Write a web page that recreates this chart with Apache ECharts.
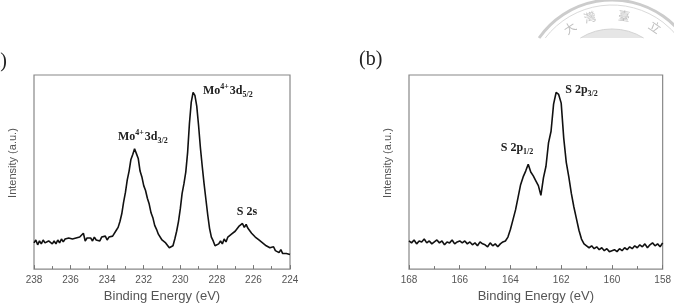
<!DOCTYPE html>
<html>
<head>
<meta charset="utf-8">
<script src="https://cdn.jsdelivr.net/npm/echarts@6/dist/echarts.min.js"></script>
<style>
  html, body { margin: 0; padding: 0; background: #fff; }
  #chart { width: 674px; height: 308px; }
</style>
</head>
<body>
<div id="chart"></div>
<script>
// (a) Mo 3d region, binding energy (eV) and intensity (a.u.)
const energyA = [
  238.0, 237.9, 237.8, 237.7, 237.6, 237.5, 237.4, 237.3, 237.2, 237.1, 237.0,
  236.9, 236.8, 236.7, 236.6, 236.5, 236.4, 236.3, 236.2, 236.1, 236.0,
  235.9, 235.8, 235.7, 235.6, 235.5, 235.4, 235.3, 235.2, 235.1, 235.0,
  234.9, 234.8, 234.7, 234.6, 234.5, 234.4, 234.3, 234.2, 234.1, 234.0,
  233.9, 233.8, 233.7, 233.6, 233.5, 233.4, 233.3, 233.2, 233.1, 233.0,
  232.9, 232.8, 232.7, 232.6, 232.5, 232.4, 232.3, 232.2, 232.1, 232.0,
  231.9, 231.8, 231.7, 231.6, 231.5, 231.4, 231.3, 231.2, 231.1, 231.0,
  230.9, 230.8, 230.7, 230.6, 230.5, 230.4, 230.3, 230.2, 230.1, 230.0,
  229.9, 229.8, 229.7, 229.6, 229.5, 229.4, 229.3, 229.2, 229.1, 229.0,
  228.9, 228.8, 228.7, 228.6, 228.5, 228.4, 228.3, 228.2, 228.1, 228.0,
  227.9, 227.8, 227.7, 227.6, 227.5, 227.4, 227.3, 227.2, 227.1, 227.0,
  226.9, 226.8, 226.7, 226.6, 226.5, 226.4, 226.3, 226.2, 226.1, 226.0,
  225.9, 225.8, 225.7, 225.6, 225.5, 225.4, 225.3, 225.2, 225.1, 225.0,
  224.9, 224.8, 224.7, 224.6, 224.5, 224.4, 224.3, 224.2, 224.1, 224.0
];
const intensityA = [
  27, 30, 25, 29, 26, 30, 27, 25, 29, 28, 26,
  29, 26, 30, 27, 31, 28, 31, 29, 32, 30,
  31, 29, 32, 30, 33, 31, 37, 29, 32, 30,
  32, 29, 33, 30, 32, 29, 33, 31, 34, 30,
  33, 31, 34, 36, 40, 43, 49, 57, 69, 79,
  92, 101, 113, 118, 124, 119, 114, 101, 95, 86,
  81, 73, 67, 58, 53, 45, 41, 36, 35, 30,
  30, 27, 26, 22, 23, 24, 31, 39, 49, 62,
  78, 88, 100, 120, 150, 172, 182, 179, 168, 148,
  125, 106, 88, 72, 56, 42, 33, 29, 24, 23,
  26, 29, 26, 31, 28, 33, 32, 36, 35, 39,
  40, 44, 43, 47, 43, 46, 42, 41, 37, 37,
  33, 35, 30, 31, 27, 29, 24, 25, 22, 22,
  23, 19, 21, 17, 20, 16, 18, 16, 18, 15
];

// (b) S 2p region
const energyB = [
  168.0, 167.9, 167.8, 167.7, 167.6, 167.5, 167.4, 167.3, 167.2, 167.1, 167.0,
  166.9, 166.8, 166.7, 166.6, 166.5, 166.4, 166.3, 166.2, 166.1, 166.0,
  165.9, 165.8, 165.7, 165.6, 165.5, 165.4, 165.3, 165.2, 165.1, 165.0,
  164.9, 164.8, 164.7, 164.6, 164.5, 164.4, 164.3, 164.2, 164.1, 164.0,
  163.9, 163.8, 163.7, 163.6, 163.5, 163.4, 163.3, 163.2, 163.1, 163.0,
  162.9, 162.8, 162.7, 162.6, 162.5, 162.4, 162.3, 162.2, 162.1, 162.0,
  161.9, 161.8, 161.7, 161.6, 161.5, 161.4, 161.3, 161.2, 161.1, 161.0,
  160.9, 160.8, 160.7, 160.6, 160.5, 160.4, 160.3, 160.2, 160.1, 160.0,
  159.9, 159.8, 159.7, 159.6, 159.5, 159.4, 159.3, 159.2, 159.1, 159.0,
  158.9, 158.8, 158.7, 158.6, 158.5, 158.4, 158.3, 158.2, 158.1, 158.0
];
const intensityB = [
  29, 27, 30, 26, 29, 28, 31, 27, 29, 26, 28,
  30, 27, 29, 25, 28, 27, 30, 26, 28, 29,
  27, 29, 26, 28, 25, 27, 24, 28, 26, 25,
  23, 27, 24, 26, 23, 26, 28, 29, 33, 41,
  51, 61, 74, 87, 95, 101, 108, 100, 96, 91,
  86, 76, 94, 106, 130, 142, 170, 182, 180, 171,
  135, 110, 95, 78, 64, 52, 40, 31, 26, 24,
  22, 24, 21, 23, 20, 22, 19, 21, 18, 19,
  20, 18, 21, 19, 22, 20, 23, 21, 24, 22,
  25, 23, 26, 22, 25, 27, 24, 26, 23, 27
];

// peak labels: text and where they sit (eV, a.u.)
const peakTextA = ['{b|Mo}{sup|4+}{b|3d}{sub|3/2}', '{b|Mo}{sup|4+}{b|3d}{sub|5/2}', '{b|S 2s}'];
const peakPosA = [[232.05, 136], [227.4, 184], [226.35, 59]];
const peakTextB = ['{b|S 2p}{sub|1/2}', '{b|S 2p}{sub|3/2}'];
const peakPosB = [[163.74, 125], [161.2, 185]];

const ticksA = { min: 224, max: 238, interval: 2 };
const ticksB = { min: 158, max: 168, interval: 2 };

const chart = echarts.init(document.getElementById('chart'));

const richStyle = {
  b: { fontFamily: 'Liberation Serif', fontWeight: 'bold', fontSize: 12, color: '#222', lineHeight: 16 },
  sup: { fontFamily: 'Liberation Serif', fontWeight: 'bold', fontSize: 8, color: '#222', lineHeight: 16, verticalAlign: 'top', padding: [0, 1, 0, 0] },
  sub: { fontFamily: 'Liberation Serif', fontWeight: 'bold', fontSize: 8, color: '#222', lineHeight: 16, verticalAlign: 'bottom' }
};

const makeX = (idx, t) => ({
  type: 'value',
  gridIndex: idx,
  min: t.min,
  max: t.max,
  interval: t.interval,
  inverse: true,
  name: 'Binding Energy (eV)',
  nameLocation: 'middle',
  nameGap: 20,
  nameTextStyle: { fontFamily: 'Liberation Sans', fontSize: 13, color: '#555' },
  axisLine: { show: false },
  axisTick: { show: true, inside: true, length: 4, lineStyle: { color: '#777' } },
  minorTick: { show: true, splitNumber: 2, length: 3, lineStyle: { color: '#777' } },
  axisLabel: { fontFamily: 'Liberation Sans', fontSize: 10, color: '#555', margin: 6 },
  splitLine: { show: false }
});

const makeY = (idx) => ({
  type: 'value',
  gridIndex: idx,
  min: 0,
  max: 200,
  name: 'Intensity (a.u.)',
  nameLocation: 'middle',
  nameGap: 16,
  nameTextStyle: { fontFamily: 'Liberation Sans', fontSize: 11, color: '#555', padding: [0, 0, 0, 18] },
  axisLine: { show: false },
  axisTick: { show: false },
  axisLabel: { show: false },
  splitLine: { show: false }
});

const makeLabels = (texts, pos) => ({
  symbol: 'circle',
  symbolSize: 0,
  silent: true,
  data: texts.map((t, i) => ({
    coord: pos[i],
    label: { show: true, position: 'inside', formatter: t, rich: richStyle }
  }))
});

// seal watermark (centre 612,89), cut off at y = 38
const sealArc = (r, w, stroke, fill) => {
  const a = Math.asin(51 / r);
  return {
    type: 'arc', z: 1, silent: true,
    shape: { cx: 612, cy: 89, r: r, startAngle: Math.PI + a, endAngle: 2 * Math.PI - a, clockwise: true },
    style: { fill: fill || null, stroke: stroke, lineWidth: w }
  };
};
const sealChar = (ch, x, y, rot) => ({
  type: 'text', z: 1, x: x, y: y, rotation: rot, silent: true,
  style: { text: ch, fontFamily: 'Noto Sans CJK TC', fontSize: 12, fill: '#c0c0c0', align: 'center', verticalAlign: 'middle' }
});

chart.setOption({
  animation: false,
  backgroundColor: '#fff',
  grid: [
    { left: 34, top: 75, width: 256, height: 200, show: true, borderColor: '#888', borderWidth: 1.2 },
    { left: 409, top: 75, width: 256, height: 200, show: true, borderColor: '#888', borderWidth: 1.2 }
  ],
  xAxis: [makeX(0, ticksA), makeX(1, ticksB)],
  yAxis: [makeY(0), makeY(1)],
  series: [
    {
      type: 'line',
      xAxisIndex: 0,
      yAxisIndex: 0,
      data: energyA.map((e, i) => [e, intensityA[i]]),
      showSymbol: false,
      lineStyle: { color: '#111', width: 1.6 },
      markPoint: makeLabels(peakTextA, peakPosA)
    },
    {
      type: 'line',
      xAxisIndex: 1,
      yAxisIndex: 1,
      data: energyB.map((e, i) => [e, intensityB[i]]),
      showSymbol: false,
      lineStyle: { color: '#111', width: 1.6 },
      markPoint: makeLabels(peakTextB, peakPosB)
    }
  ],
  graphic: [
    sealArc(89, 3, '#cccccc'),
    sealArc(84, 1, '#dadada'),
    sealArc(60, 1, '#d4d4d4', '#e6e6e6'),
    sealChar('大', 570, 28, 0.6),
    sealChar('灣', 590, 17, 0.3),
    sealChar('臺', 624, 16, -0.15),
    sealChar('立', 655, 27, -0.6),
    // panel letters
    { type: 'text', z: 3, x: 7, y: 62, style: { text: '(a)', fontFamily: 'Liberation Serif', fontSize: 20, fill: '#222', align: 'right', verticalAlign: 'middle' } },
    { type: 'text', z: 3, x: 359, y: 60, style: { text: '(b)', fontFamily: 'Liberation Serif', fontSize: 20, fill: '#222', align: 'left', verticalAlign: 'middle' } }
  ]
});
</script>
</body>
</html>
